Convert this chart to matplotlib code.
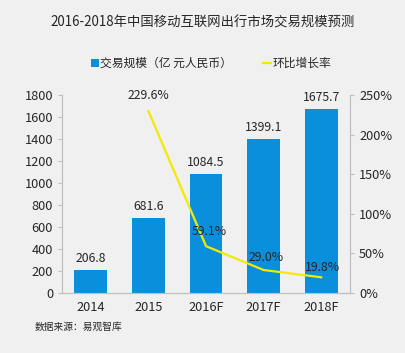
import matplotlib.pyplot as plt
import numpy as np

plt.rcParams['font.family'] = ['Noto Sans CJK SC', 'DejaVu Sans']

years = ['2014', '2015', '2016F', '2017F', '2018F']
scale = [206.8, 681.6, 1084.5, 1399.1, 1675.7]
growth_years = ['2015', '2016F', '2017F', '2018F']
growth = [229.6, 59.1, 29.0, 19.8]

bg = '#f0f0f0'
bar_c = '#0a8fdc'
line_c = '#f2ea00'
txt = '#262626'
spine_c = '#bfbfbf'

fig = plt.figure(figsize=(4.06, 3.53), dpi=100, facecolor=bg)
ax = fig.add_axes([0.153, 0.170, 0.709, 0.561])
ax.set_facecolor(bg)
ax2 = ax.twinx()

x = np.arange(len(years))
bars = ax.bar(x, scale, width=0.57, color=bar_c, label='交易规模（亿 元人民币）')
for xi, v in zip(x, scale):
    ax.text(xi, v + 45, f'{v:.1f}', ha='center', va='bottom', fontsize=8.8, color=txt)

gx = [years.index(y) for y in growth_years]
ln, = ax2.plot(gx, growth, color=line_c, lw=1.6, label='环比增长率')
offs = [(0, 12), (0.05, 10), (0.05, 8), (0.03, 4)]
for xi, v, (dx, dy) in zip(gx, growth, offs):
    ax2.text(xi + dx, v + dy, f'{v:.1f}%', ha='center', va='bottom', fontsize=8.8, color=txt)

ax.set_xlim(-0.5, 4.5)
ax.set_ylim(0, 1800)
ax.set_yticks(range(0, 1801, 200))
ax2.set_ylim(0, 250)
ax2.set_yticks(range(0, 251, 50))
ax2.set_yticklabels([f'{t}%' for t in range(0, 251, 50)])
ax.set_xticks(x)
ax.set_xticklabels(years)

for a in (ax, ax2):
    a.spines['top'].set_visible(False)
    for s in ('left', 'right', 'bottom'):
        a.spines[s].set_color(spine_c)
    a.tick_params(axis='both', colors=spine_c, labelcolor=txt, labelsize=9.2, length=3)
ax.tick_params(axis='x', length=0, pad=6)

fig.text(0.5, 0.937, '2016-2018年中国移动互联网出行市场交易规模预测',
         ha='center', va='center', fontsize=9.6, color=txt)
fig.legend(handles=[bars, ln], loc='center', bbox_to_anchor=(0.52, 0.82), ncol=2,
           frameon=False, fontsize=8.5, handlelength=0.7, handleheight=0.6,
           columnspacing=2.6, handletextpad=0.1, labelcolor=txt)
fig.text(0.086, 0.074, '数据来源：易观智库', ha='left', va='center', fontsize=7, color=txt)

fig.savefig('out.png', dpi=100, facecolor=bg)
